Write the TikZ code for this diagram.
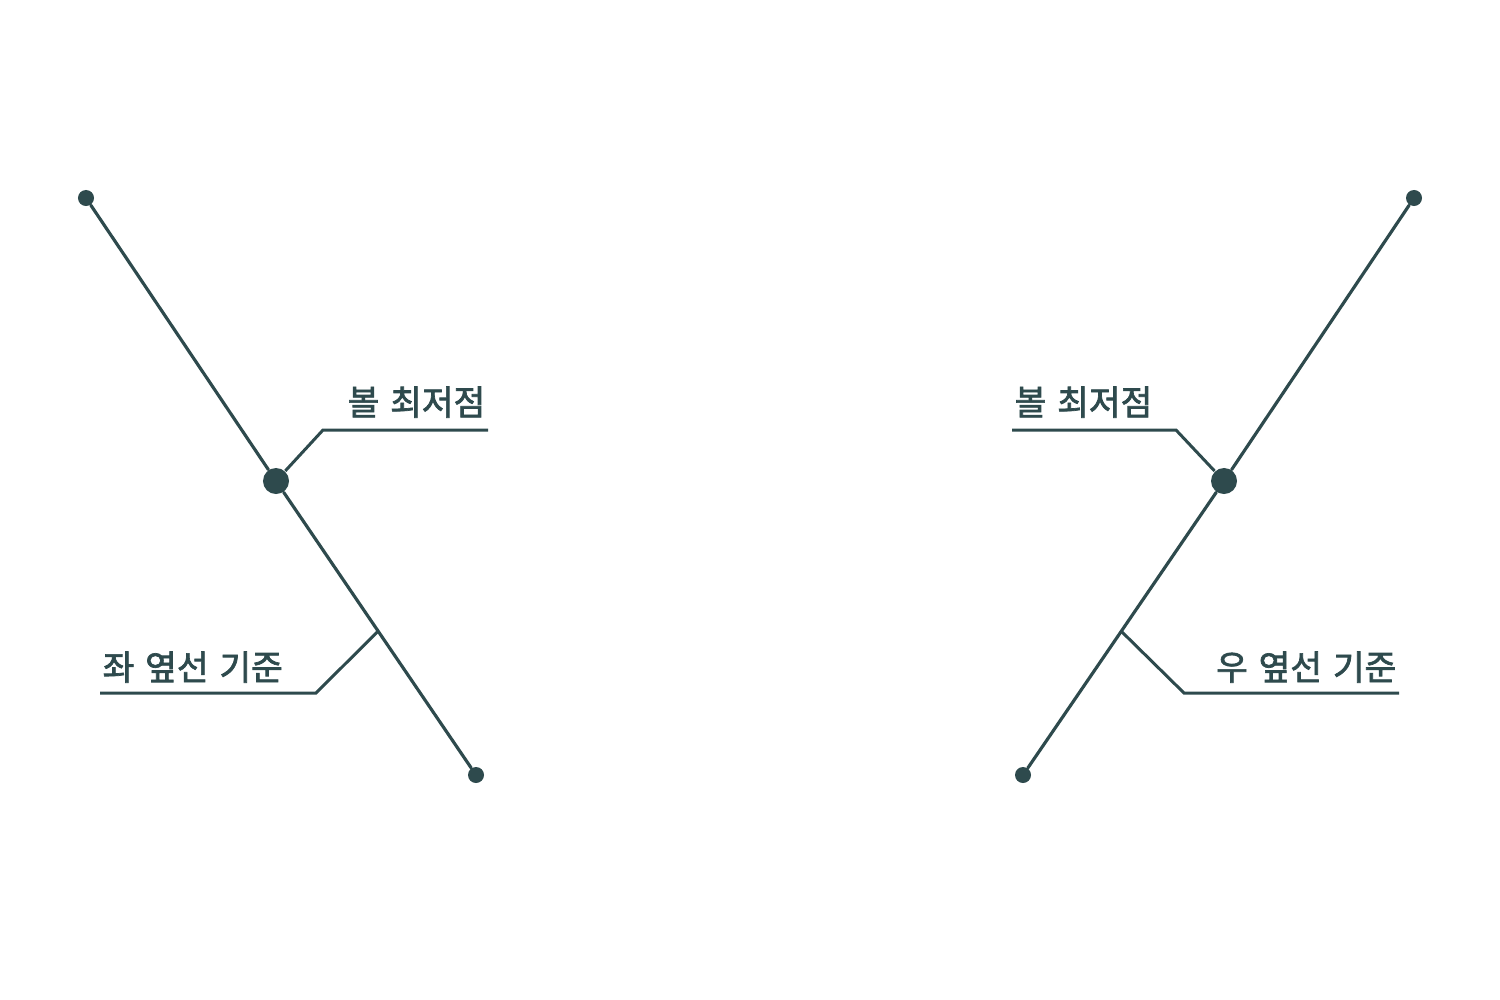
\documentclass[tikz,border=0pt]{standalone}
\usepackage{fontspec}
\newfontfamily\kofont[FakeBold=2,WordSpace=1.4]{Noto Sans CJK KR}
\usetikzlibrary{positioning,calc}
\definecolor{slate}{HTML}{2E4A4D}
\tikzset{
  leg/.style={draw=slate,line width=0.9pt,line cap=round},
  leader/.style={draw=slate,line width=0.85pt},
  bigdot/.style={circle,fill=slate,inner sep=0pt,minimum size=0.26cm},
  smalldot/.style={circle,fill=slate,inner sep=0pt,minimum size=0.16cm},
  tag/.style={text=slate,inner sep=0pt,font=\kofont\fontsize{9.8}{12}\selectfont}
}
\begin{document}
\begin{tikzpicture}[x=0.01cm,y=-0.01cm]
  \useasboundingbox[fill=white] (0,0) rectangle (1500,1000);

  % left leg
  \node[smalldot] (ltop) at (86,198) {};
  \node[smalldot] (lbot) at (476,775) {};
  \node[bigdot] (lmid) at (276,481) {};
  \draw[leg] (ltop) -- (lmid) -- (lbot);
  \coordinate (lside) at ($(ltop)!0.75!(lbot)$);

  \coordinate (lk1) at (323,430);
  \coordinate (lk2) at (316,693);
  \draw[leader] (lmid) -- (lk1) -- (488,430) coordinate (le1);
  \draw[leader] (lside) -- (lk2) -- (100,693) coordinate (le2);
  \node[tag,anchor=base east] at (486,415) {볼 최저점};
  \node[tag,anchor=base west] at (102,680) {좌 옆선 기준};

  % right leg
  \node[smalldot] (rtop) at (1414,198) {};
  \node[smalldot] (rbot) at (1023,775) {};
  \node[bigdot] (rmid) at (1224,481) {};
  \draw[leg] (rtop) -- (rmid) -- (rbot);
  \coordinate (rside) at ($(rtop)!0.75!(rbot)$);

  \coordinate (rk1) at (1176,430);
  \coordinate (rk2) at (1184,693);
  \draw[leader] (rmid) -- (rk1) -- (1012,430) coordinate (re1);
  \draw[leader] (rside) -- (rk2) -- (1399,693) coordinate (re2);
  \node[tag,anchor=base west] at (1014,415) {볼 최저점};
  \node[tag,anchor=base east] at (1397,680) {우 옆선 기준};
\end{tikzpicture}
\end{document}
